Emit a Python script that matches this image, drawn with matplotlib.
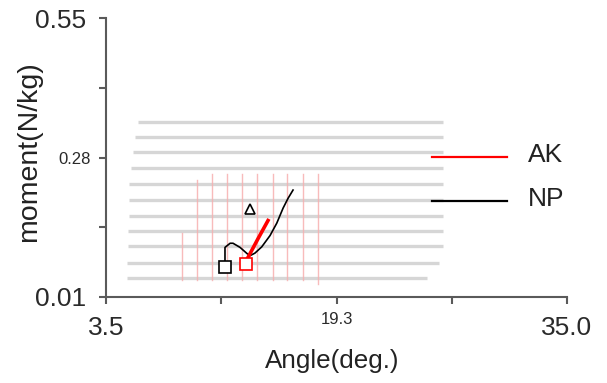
import matplotlib
matplotlib.use("Agg")
import matplotlib.pyplot as plt
from matplotlib.transforms import ScaledTranslation

plt.rcParams['font.family'] = ['Liberation Sans', 'DejaVu Sans']

# ---- data ----
x_ticks = [3.5, 11.375, 19.25, 27.125, 35.0]
x_ticklabels = ['3.5', '', '19.3', '', '35.0']
y_ticks = [0.01, 0.145, 0.28, 0.415, 0.55]
y_ticklabels = ['0.01', '', '0.28', '', '0.55']

# light gray horizontal background strokes
grid_y = [0.349, 0.320, 0.290, 0.259, 0.2295, 0.1985, 0.1667, 0.1376, 0.108, 0.0763, 0.0465]
grid_x0 = [5.69, 5.48, 5.35, 5.21, 5.07, 5.07, 5.07, 5.0, 5.0, 4.94, 4.94]
grid_x1 = [26.53, 26.53, 26.53, 26.53, 26.53, 26.53, 26.53, 26.53, 26.53, 26.26, 25.4]

# pink vertical background strokes
pink_x = [8.67, 9.70, 10.72, 11.75, 12.78, 13.80, 14.89, 15.89, 16.99, 18.01]
pink_y0 = [0.042, 0.042, 0.042, 0.042, 0.042, 0.042, 0.042, 0.042, 0.042, 0.036]
pink_y1 = [0.133, 0.236, 0.249, 0.249, 0.249, 0.249, 0.249, 0.249, 0.249, 0.249]

# NP (black) curve
np_x = [11.63, 11.63, 11.98, 12.18, 12.66, 13.14, 13.34, 13.68, 14.14, 14.71, 15.17, 15.60, 15.94, 16.28]
np_y = [0.081, 0.106, 0.114, 0.114, 0.106, 0.094, 0.090, 0.095, 0.107, 0.129, 0.153, 0.182, 0.201, 0.217]
# AK (red) curve
ak_x = [13.21, 13.89, 14.57]
ak_y = [0.087, 0.123, 0.158]

np_start = (11.60, 0.069)
ak_start = (13.05, 0.073)
triangle_pt = (13.34, 0.180)

legend_labels = ['AK', 'NP']
legend_colors = ['#ff0000', '#000000']
legend_y = [0.281, 0.196]

# ---- figure ----
fig = plt.figure(figsize=(6.07, 3.83), dpi=100)
ax = fig.add_axes([106/607, 86/383, 461/607, 279/383])
ax.set_xlim(3.5, 35.0)
ax.set_ylim(0.01, 0.55)

for y, a, b in zip(grid_y, grid_x0, grid_x1):
    ax.plot([a, b], [y, y], color='#d6d6d6', lw=2.4, solid_capstyle='butt', zorder=1)
for x, a, b in zip(pink_x, pink_y0, pink_y1):
    ax.plot([x, x], [a, b], color='#f7b0b0', lw=1.0, alpha=0.85, zorder=2)

ax.plot(np_x, np_y, color='black', lw=1.2, zorder=4)
ax.plot(ak_x, ak_y, color='#ff0000', lw=2.6, zorder=5)
ax.plot([np_start[0]], [np_start[1]], marker='s', ms=8, mfc='white', mec='black', mew=1.2, zorder=6)
ax.plot([ak_start[0]], [ak_start[1]], marker='s', ms=8, mfc='white', mec='#ff0000', mew=1.2, zorder=6)
ax.plot([triangle_pt[0]], [triangle_pt[1]], marker='^', ms=6.5, mfc='white', mec='black', mew=1.2, zorder=6)

# legend (manual, lines + labels)
for lab, col, y in zip(legend_labels, legend_colors, legend_y):
    ax.plot([25.78, 30.91], [y, y], color=col, lw=1.6, zorder=5, clip_on=False)
    ax.text(32.34, y + 0.004, lab, fontsize=19, color='#222222', ha='left', va='center')

# axes styling
for s in ['top', 'right']:
    ax.spines[s].set_visible(False)
for s in ['left', 'bottom']:
    ax.spines[s].set_color('#5a5a5a')
    ax.spines[s].set_linewidth(1.5)

ax.set_xticks(x_ticks)
ax.set_xticklabels(x_ticklabels)
ax.set_yticks(y_ticks)
ax.set_yticklabels(y_ticklabels)
ax.tick_params(axis='both', direction='out', length=5, width=1.5, color='#5a5a5a',
               labelcolor='#2a2a2a')
ax.tick_params(axis='x', pad=9)
ax.tick_params(axis='y', pad=9)

for lbl in ax.get_xticklabels():
    if lbl.get_text() == '19.3':
        lbl.set_fontsize(12)
        lbl.set_transform(lbl.get_transform() + ScaledTranslation(0, 3/72, fig.dpi_scale_trans))
    else:
        lbl.set_fontsize(19)
for lbl in ax.get_yticklabels():
    if lbl.get_text() == '0.28':
        lbl.set_fontsize(12)
        lbl.set_transform(lbl.get_transform() + ScaledTranslation(3/72, 0, fig.dpi_scale_trans))
    else:
        lbl.set_fontsize(19)

ax.set_xlabel('Angle(deg.)', fontsize=18.7, color='#222222')
ax.xaxis.set_label_coords(0.49, -0.185)
ax.set_ylabel('moment(N/kg)', fontsize=20.5, color='#222222')
ax.yaxis.set_label_coords(-0.139, 0.52)

fig.savefig('out.png', dpi=100)
